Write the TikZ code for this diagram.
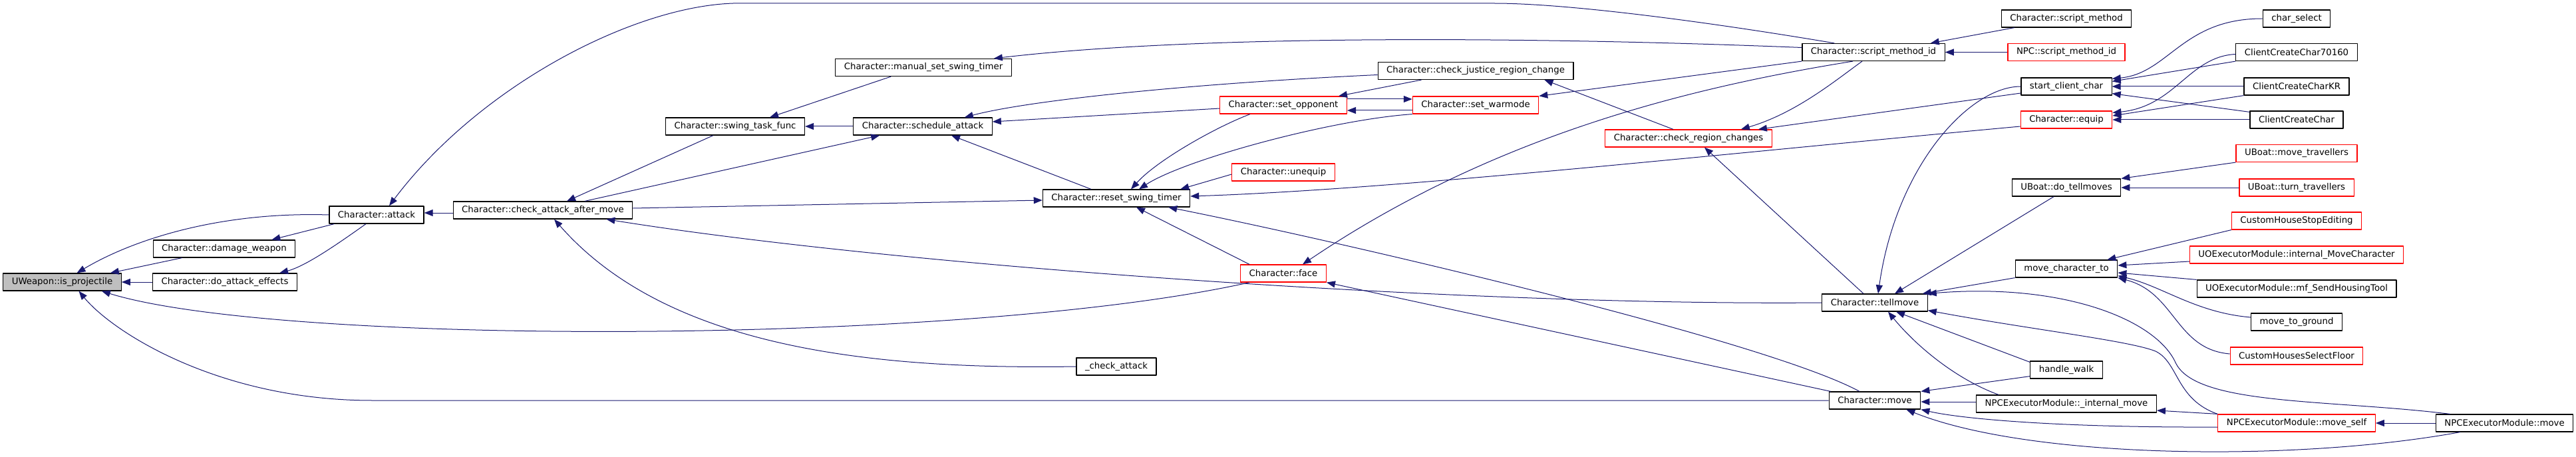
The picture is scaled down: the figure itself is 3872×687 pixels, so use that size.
\documentclass[tikz,border=0pt]{standalone}
\usepackage{fontspec}
\setmainfont{DejaVu Sans}
\usetikzlibrary{arrows.meta}
\definecolor{edgeblue}{HTML}{191970}
\tikzset{ node_style/.style = { rectangle % function box
        , draw = black
        , fill = white
        , line width = 1.2pt
        , minimum height = 26pt
        , inner xsep = 13pt
        , inner ysep = 0pt
        , font = \fontsize{13.3}{16}\selectfont
        }
        , red_node_style/.style = { node_style % truncated graph
        , draw = red
        }
        , root_node_style/.style = { node_style % graph root
        , fill = gray!50
        }
        }
\begin{document}
\begin{tikzpicture}[x=1pt, y=-1pt, line join=round,
        edge_style/.style={draw=edgeblue, line width=1pt, -{Triangle[length=13pt,width=10pt]}}]
        \useasboundingbox (0,0) rectangle (3872,687);

        \node [root_node_style](n1) at (93.5,424) {UWeapon::is\_projectile};
        \node [node_style](n2) at (337,374) {Character::damage\_weapon};
        \node [node_style](n3) at (338,424) {Character::do\_attack\_effects};
        \node [node_style](n4) at (566,323) {Character::attack};
        \node [node_style](n5) at (816,316) {Character::check\_attack\_after\_move};
        \node [node_style](n6) at (1105,190) {Character::swing\_task\_func};
        \node [node_style](n7) at (1388,101.5) {Character::manual\_set\_swing\_timer};
        \node [node_style](n8) at (1387,190) {Character::schedule\_attack};
        \node [node_style](n9) at (1678,298) {Character::reset\_swing\_timer};
        \node [node_style](n10) at (1678,551) {\_check\_attack};
        \node [red_node_style](n11) at (1929,158) {Character::set\_opponent};
        \node [red_node_style](n12) at (1929,259) {Character::unequip};
        \node [red_node_style](n13) at (1929,411) {Character::face};
        \node [node_style](n14) at (2218,106.5) {Character::check\_justice\_region\_change};
        \node [red_node_style](n15) at (2218,158) {Character::set\_warmode};
        \node [red_node_style](n16) at (2538,208) {Character::check\_region\_changes};
        \node [node_style](n17) at (2816,78.5) {Character::script\_method\_id};
        \node [node_style](n18) at (2818,455) {Character::tellmove};
        \node [node_style](n19) at (2818,602) {Character::move};
        \node [node_style](n20) at (3106,28) {Character::script\_method};
        \node [red_node_style](n21) at (3106,78.5) {NPC::script\_method\_id};
        \node [node_style](n22) at (3106,130) {start\_client\_char};
        \node [red_node_style](n23) at (3106,180) {Character::equip};
        \node [node_style](n24) at (3106,282) {UBoat::do\_tellmoves};
        \node [node_style](n25) at (3106,404) {move\_character\_to};
        \node [node_style](n26) at (3106,556) {handle\_walk};
        \node [node_style](n27) at (3106,607) {NPCExecutorModule::\_internal\_move};
        \node [node_style](n28) at (3452,28) {char\_select};
        \node [node_style](n29) at (3452,78.5) {ClientCreateChar70160};
        \node [node_style](n30) at (3452,130) {ClientCreateCharKR};
        \node [node_style](n31) at (3452,180) {ClientCreateChar};
        \node [red_node_style](n32) at (3452,230.5) {UBoat::move\_travellers};
        \node [red_node_style](n33) at (3452,282) {UBoat::turn\_travellers};
        \node [red_node_style](n34) at (3452,332) {CustomHouseStopEditing};
        \node [red_node_style](n35) at (3452,383) {UOExecutorModule::internal\_MoveCharacter};
        \node [node_style](n36) at (3452,434) {UOExecutorModule::mf\_SendHousingTool};
        \node [node_style](n37) at (3452,484) {move\_to\_ground};
        \node [red_node_style](n38) at (3452,535) {CustomHousesSelectFloor};
        \node [red_node_style](n39) at (3452,636) {NPCExecutorModule::move\_self};
        \node [node_style](n40) at (3764.5,636) {NPCExecutorModule::move};

        \coordinate (crtl7) at (560,602);
        \coordinate (crtl9a) at (2246,5);
        \coordinate (crtl9b) at (1102,5);
        \coordinate (crtl42) at (3270,545);
        \coordinate (crtl43) at (3240,528);

        \draw [edge_style] (n4.west) .. controls (330,318) and (200,360) .. ([xshift=22pt]n1.north);
        \draw [edge_style] ([xshift=44pt]n2.south west) -- ([xshift=-17pt]n1.north east);
        \draw [edge_style] (n3) -- (n1);
        \draw [edge_style] ([xshift=8pt]n4.south west) -- ([xshift=-36pt]n2.north east);
        \draw [edge_style] ([xshift=-16pt]n4.south) .. controls (510,365) and (460,400) .. ([xshift=-27pt]n3.north east);
        \draw [edge_style] ([xshift=14pt]n13.south west) .. controls (1450,520) and (420,520) .. ([xshift=-30pt]n1.south east);
        \draw [edge_style] (n19.west) -- (crtl7) .. controls (330,602) and (170,500) .. ([xshift=25pt]n1.south);
        \draw [edge_style] ([yshift=-4pt]n5.west) -- ([yshift=3pt]n4.east);
        \draw [edge_style] ([xshift=49pt]n17.north west) .. controls (2550,30) and (2350,5) .. (crtl9a) -- (crtl9b) .. controls (950,10) and (720,130) .. ([xshift=19pt]n4.north);
        \draw [edge_style] ([xshift=-33pt]n6.south) -- ([xshift=36pt]n5.north);
        \draw [edge_style] ([xshift=63pt]n5.north) -- ([xshift=40pt]n8.south west);
        \draw [edge_style] ([yshift=3pt]n5.east) -- ([yshift=-3pt]n9.west);
        \draw [edge_style] (n18.west) .. controls (2200,460) and (1350,400) .. ([xshift=-40pt]n5.south east);
        \draw [edge_style] (n10.west) .. controls (1300,556) and (1000,520) .. ([xshift=17pt]n5.south);
        \draw [edge_style] ([xshift=84pt]n7.south west) -- ([xshift=52pt]n6.north);
        \draw [edge_style] (n8) -- (n6);
        \draw [edge_style] ([yshift=7pt]n17.west) .. controls (2300,55) and (1800,52) .. ([xshift=-27pt]n7.north east);
        \draw [edge_style] ([yshift=-6pt]n14.west) .. controls (1800,125) and (1550,150) .. ([xshift=-42pt]n8.north east);
        \draw [edge_style] ([yshift=-5pt]n11.west) -- ([yshift=7pt]n8.east);
        \draw [edge_style] ([xshift=-38pt]n9.north) -- ([xshift=43pt]n8.south);
        \draw [edge_style] ([xshift=46pt]n11.south west) .. controls (1830,190) and (1740,240) .. ([xshift=22pt]n9.north);
        \draw [edge_style] (n15.south west) .. controls (2000,180) and (1780,240) .. ([xshift=34pt]n9.north);
        \draw [edge_style] ([yshift=-3pt]n12.west) -- ([xshift=-15pt]n9.north east);
        \draw [edge_style] ([yshift=-10pt]n23.west) .. controls (2600,230) and (2100,285) .. ([yshift=3pt]n9.east);
        \draw [edge_style] ([xshift=-23pt]n19.north) .. controls (2650,510) and (2000,360) .. ([xshift=-33pt]n9.south east);
        \draw [edge_style] ([xshift=14pt]n13.north west) -- ([xshift=30pt]n9.south);
        \draw [edge_style] ([xshift=66pt]n14.south west) -- ([xshift=-13pt]n11.north east);
        \draw [edge_style] ([yshift=9pt]n11.east) -- ([yshift=9pt]n15.west);
        \draw [edge_style] ([yshift=-8pt]n15.west) -- ([yshift=-8pt]n11.east);
        \draw [edge_style] (n17.south west) -- (n15.north east);
        \draw [edge_style] ([xshift=-23pt]n16.north) -- ([xshift=-44pt]n14.south east);
        \draw [edge_style] ([xshift=-31pt]n17.south) .. controls (2550,130) and (2250,200) .. ([xshift=29pt]n13.north);
        \draw [edge_style] ([xshift=3pt]n19.north west) -- (n13.south east);
        \draw [edge_style] ([xshift=-17pt]n17.south) .. controls (2760,120) and (2700,170) .. ([xshift=-47pt]n16.north east);
        \draw [edge_style] ([yshift=-10pt]n22.west) -- ([xshift=-21pt]n16.north east);
        \draw [edge_style] ([xshift=-17pt]n18.north) -- ([xshift=24pt]n16.south);
        \draw [edge_style] ([xshift=20pt]n20.south west) -- ([xshift=-22pt]n17.north east);
        \draw [edge_style] (n21) -- (n17);
        \draw [edge_style] (n22.west) .. controls (2960,130) and (2850,250) .. ([xshift=5pt]n18.north);
        \draw [edge_style] ([xshift=-19pt]n24.south) -- ([xshift=30pt]n18.north);
        \draw [edge_style] (n25.south west) -- ([xshift=-8pt]n18.north east);
        \draw [edge_style] ([xshift=22pt]n40.north west) .. controls (3500,600) and (3300,610) .. (crtl42) .. controls (3240,480) and (3100,425) .. (n18.north east);
        \draw [edge_style] (n39.north west) .. controls (3270,600) and (3275,545) .. (crtl43) .. controls (3200,512) and (3050,495) .. ([yshift=2pt]n18.south east);
        \draw [edge_style] ([yshift=-2pt]n26.north west) -- ([xshift=32pt]n18.south);
        \draw [edge_style] ([xshift=34pt]n27.north west) .. controls (2940,570) and (2880,520) .. ([xshift=20pt]n18.south);
        \draw [edge_style] ([yshift=4pt]n26.south west) -- (n19.north east);
        \draw [edge_style] ([yshift=3pt]n27.west) -- ([yshift=-2pt]n19.east);
        \draw [edge_style] ([yshift=-6pt]n39.west) .. controls (3100,643) and (2950,630) .. (n19.south east);
        \draw [edge_style] ([xshift=37pt]n40.south west) .. controls (3450,695) and (3050,690) .. ([xshift=-22pt]n19.south east);
        \draw [edge_style] (n39.north west) -- ([yshift=-10pt]n27.east);
        \draw [edge_style] (n40) -- (n39);
        \draw [edge_style] (n28.west) .. controls (3280,28) and (3260,110) .. ([yshift=-2pt]n22.north east);
        \draw [edge_style] (n29.south west) -- ([yshift=-6pt]n22.north east);
        \draw [edge_style] (n30) -- (n22);
        \draw [edge_style] ([yshift=-2pt]n31.north west) -- ([yshift=3pt]n22.south east);
        \draw [edge_style] ([yshift=-3pt]n29.west) .. controls (3290,85) and (3270,160) .. ([yshift=-3pt]n23.north east);
        \draw [edge_style] (n30.south west) -- ([yshift=6pt]n23.east);
        \draw [edge_style] (n31) -- (n23);
        \draw [edge_style] (n32.south west) -- (n24.north east);
        \draw [edge_style] (n33) -- (n24);
        \draw [edge_style] (n34.south west) -- ([xshift=-16pt]n25.north east);
        \draw [edge_style] ([yshift=-10pt]n35.west) -- ([yshift=5pt]n25.east);
        \draw [edge_style] (n36.north west) -- ([yshift=-6pt]n25.east);
        \draw [edge_style] ([yshift=7pt]n37.west) .. controls (3300,470) and (3250,430) .. ([yshift=3pt]n25.south east);
        \draw [edge_style] ([yshift=3pt]n38.west) .. controls (3270,525) and (3270,440) .. (n25.south east);

        \end{tikzpicture}
\end{document}
